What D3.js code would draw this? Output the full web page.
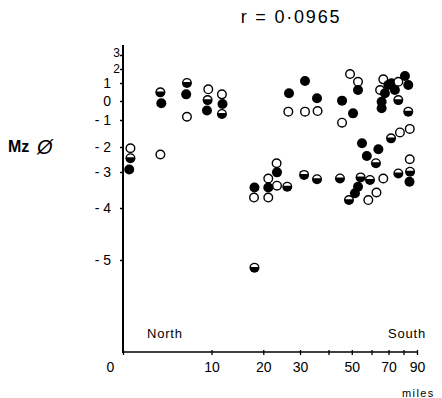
<!DOCTYPE html>
<html>
<head>
<meta charset="utf-8">
<script src="https://cdn.jsdelivr.net/npm/d3@7/dist/d3.min.js"></script>
<style>
  html, body { margin: 0; padding: 0; background: #fff; }
  svg { display: block; font-family: 'Liberation Sans', Arial, sans-serif; }
  .axis path, .axis line { stroke: #000; }
</style>
</head>
<body>
<div id="chart"></div>
<script>
// distance along the coast in miles, mean grain size (phi), marker kind
const miles = [
  0.6, 0.6, 0.5, 3.4, 3.5, 3.4, 6.5, 6.4, 6.5, 9.5, 9.4, 9.3, 11.7, 11.8, 11.7,
  18.0, 17.9, 18.0, 21.2, 21.2, 21.2, 23.3, 23.4, 23.4, 26.2, 26.7, 26.5,
  31.3, 31.6, 31.6, 35.7, 35.9, 35.7, 44.7, 45.6, 45.6, 48.7, 49.2, 50.6, 51.5,
  53.0, 53.0, 53.0, 54.3, 55.0, 57.5, 58.3, 59.2, 62.5, 62.8, 63.9, 64.9,
  65.8, 65.8, 66.8, 66.8, 67.8, 69.9, 71.9, 71.6, 74.1, 76.4, 76.4, 76.4, 77.5,
  81.0, 83.4, 83.4, 84.5, 84.5, 84.7, 84.3
];
const phi = [
  -2.05, -2.45, -2.9, 0.48, -0.12, -2.3, 1.0, 0.37, -0.83, 0.65, 0.05, -0.5, 0.37, -0.16, -0.68,
  -3.43, -3.71, -5.15, -3.18, -3.43, -3.71, -2.65, -3.01, -3.38, -3.41, 0.43, -0.56,
  -3.08, 1.14, -0.56, 0.15, -0.53, -3.2, -3.18, 0.02, -1.1, -3.78, 1.64, -0.65, -3.59,
  1.09, 0.61, -3.41, -3.15, -1.86, -2.36, -3.78, -3.22, -2.65, -3.57, -2.09, 0.61,
  -0.04, -0.38, 1.26, -3.18, 0.43, 0.89, 0.98, -1.68, 0.61, 1.09, 0.05, -3.04, -1.46,
  1.5, 0.89, -0.56, -1.33, -2.49, -2.99, -3.27
];
const kind = [
  'o', 'h', 'f', 'h', 'f', 'o', 'h', 'f', 'o', 'o', 'h', 'f', 'o', 'f', 'h',
  'f', 'o', 'h', 'o', 'f', 'o', 'o', 'f', 'o', 'h', 'f', 'o',
  'h', 'f', 'o', 'f', 'o', 'h', 'h', 'f', 'o', 'h', 'o', 'f', 'f',
  'o', 'f', 'f', 'h', 'f', 'f', 'o', 'h', 'h', 'o', 'f', 'o',
  'f', 'f', 'o', 'o', 'f', 'f', 'f', 'h', 'f', 'o', 'h', 'h', 'o',
  'f', 'f', 'h', 'o', 'o', 'h', 'f'
];

const yTicks = [3, 2, 1, 0, -1, -2, -3, -4, -5];
const xTicks = [0, 10, 20, 30, 40, 50, 60, 70, 80, 90];
const xLabels = ['0', '10', '20', '30', '', '50', '', '70', '', '90'];
const title = 'r = 0·0965';

const width = 442;
const height = 398;
const axisX = 123;
const axisY = 352;

const svg = d3.select('#chart').append('svg')
  .attr('width', width)
  .attr('height', height);

// distance axis is logarithmic in (miles + 10)
const xLog = d3.scaleLog().domain([10, 100]).range([axisX, 417]);
const x = (m) => xLog(m + 10);

// phi axis is stretched towards the coarse end
const y = d3.scaleLinear()
  .domain(yTicks)
  .range([55, 69, 83, 101, 120, 147, 172, 208, 260]);

// axes
svg.append('line')
  .attr('x1', axisX).attr('x2', axisX)
  .attr('y1', 45).attr('y2', axisY + 1)
  .attr('stroke', '#000').attr('stroke-width', 2);
svg.append('line')
  .attr('x1', axisX - 1).attr('x2', 418)
  .attr('y1', axisY).attr('y2', axisY)
  .attr('stroke', '#000').attr('stroke-width', 1.6);

const yAxis = svg.append('g')
  .attr('class', 'axis')
  .attr('transform', `translate(${axisX},0)`)
  .call(d3.axisLeft(y)
    .tickValues(yTicks)
    .tickSize(3)
    .tickPadding(9)
    .tickFormat((d) => (d < 0 ? '- ' + -d : String(d))));
yAxis.select('.domain').remove();
yAxis.selectAll('line').attr('stroke-width', 1.5);
yAxis.selectAll('text')
  .attr('font-size', 14)
  .attr('font-family', 'Liberation Sans, Arial, sans-serif')
  .attr('fill', '#000');
yAxis.selectAll('.tick')
  .filter((d) => d >= 2)
  .select('text')
  .attr('x', -3)
  .attr('font-size', 12)
  .attr('dy', (d) => (d === 3 ? '0.15em' : '0.25em'));

const xAxis = svg.append('g')
  .attr('class', 'axis')
  .attr('transform', `translate(0,${axisY})`)
  .call(d3.axisBottom(xLog)
    .tickValues(xTicks.map((m) => m + 10))
    .tickSize(3)
    .tickPadding(7)
    .tickFormat((_, i) => xLabels[i]));
xAxis.select('.domain').remove();
xAxis.selectAll('line').attr('stroke-width', 1.3).attr('y1', -2);
xAxis.selectAll('text')
  .attr('font-size', 14)
  .attr('font-family', 'Liberation Sans, Arial, sans-serif')
  .attr('fill', '#000');
xAxis.selectAll('.tick').filter((d) => d === 10)
  .select('text').attr('x', -13);

// labels
svg.append('text')
  .attr('x', 291).attr('y', 23)
  .attr('text-anchor', 'middle')
  .attr('font-size', 18)
  .attr('letter-spacing', 1.8)
  .text(title);

svg.append('text')
  .attr('x', 8).attr('y', 152)
  .attr('font-size', 16)
  .attr('font-weight', 'bold')
  .text('Mz');
svg.append('text')
  .attr('x', 37).attr('y', 154)
  .attr('font-size', 20)
  .attr('font-style', 'italic')
  .text('Ø');

svg.append('text').attr('x', 147).attr('y', 338)
  .attr('font-size', 13).attr('letter-spacing', 0.8).text('North');
svg.append('text').attr('x', 388).attr('y', 338)
  .attr('font-size', 13).attr('letter-spacing', 0.8).text('South');
svg.append('text').attr('x', 402).attr('y', 397)
  .attr('font-size', 11).attr('letter-spacing', 1.4).text('miles');

// samples
const r = 5;
const points = miles.map((m, i) => ({ m, p: phi[i], k: kind[i] }));

const marks = svg.append('g')
  .selectAll('g')
  .data(points)
  .join('g')
  .attr('transform', (d) => `translate(${x(d.m)},${y(d.p)})`);

marks.append('circle')
  .attr('r', (d) => (d.k === 'o' ? r - 0.7 : r))
  .attr('fill', (d) => (d.k === 'o' ? '#fff' : '#000'))
  .attr('stroke', '#000')
  .attr('stroke-width', (d) => (d.k === 'o' ? 1.4 : 0));

const capR = r - 1.3;
const capH = 0.9;
const capW = Math.sqrt(capR * capR - capH * capH);
marks.filter((d) => d.k === 'h')
  .append('path')
  .attr('d', `M${-capW},${-capH}A${capR},${capR} 0 0 1 ${capW},${-capH}Z`)
  .attr('fill', '#fff');
</script>
</body>
</html>
